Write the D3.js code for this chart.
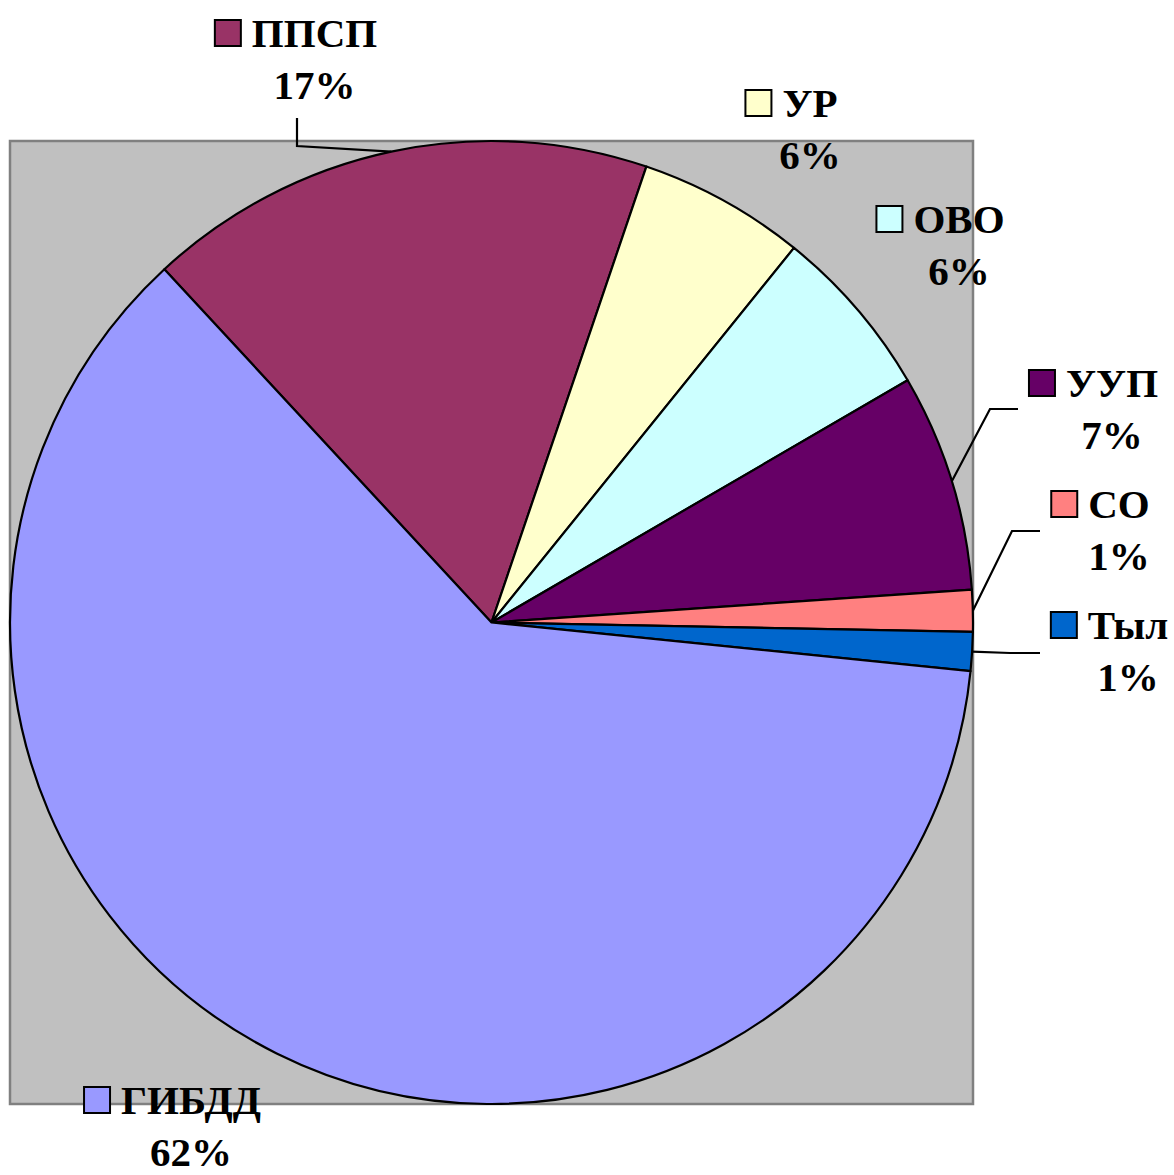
<!DOCTYPE html>
<html><head><meta charset="utf-8">
<script src="https://cdn.jsdelivr.net/npm/d3@7/dist/d3.min.js"></script>
<style>html,body{margin:0;padding:0;background:#fff}</style>
</head><body>
<svg id="chart" width="1174" height="1175"></svg>
<script>
// ---- data ----
const categories = ["ППСП", "УР", "ОВО", "УУП", "СО", "Тыл", "ГИБДД"];
const values = [17.1, 5.6, 5.8, 7.3, 1.4, 1.3, 61.5];
const colors = ["#993366", "#FFFFCC", "#CCFFFF", "#660066", "#FF8080", "#0066CC", "#9999FF"];

// ---- layout (positions / styles) ----
const W = 1174, H = 1175;
const plot = {x: 10, y: 141, w: 963, h: 963};
const cx = 491.5, cy = 622.5, R = 481.5;
const startDeg = -42.8;
const fontSize = 41, lineGap = 52;
// label anchor: center x of name text, baseline y of name line; optional leader elbow/end
const labelLayout = [
  {cx: 314.5, y: 47,   leader: [[297, 146], [297, 118]]},
  {cx: 810,   y: 117,  leader: null},
  {cx: 959,   y: 233,  leader: null},
  {cx: 1112,  y: 397,  leader: [[990, 409], [1018, 409]]},
  {cx: 1119,  y: 518,  leader: [[1012, 531], [1040, 531]]},
  {cx: 1128,  y: 639,  leader: [[1010, 653], [1040, 653]]},
  {cx: 191,   y: 1114, leader: null}
];

const svg = d3.select("#chart");
svg.append("rect").attr("x", plot.x).attr("y", plot.y).attr("width", plot.w).attr("height", plot.h)
  .attr("fill", "#C0C0C0").attr("stroke", "#808080").attr("stroke-width", 2.5);

const data = categories.map((c, i) => ({name: c, value: values[i], color: colors[i]}));
const total = d3.sum(values);
const rad = d => d * Math.PI / 180;
const pie = d3.pie().value(d => d.value).sort(null)
  .startAngle(rad(startDeg)).endAngle(rad(startDeg) + 2 * Math.PI);
const arcs = pie(data);
const arc = d3.arc().innerRadius(0).outerRadius(R);

const g = svg.append("g").attr("transform", `translate(${cx},${cy})`);
g.selectAll("path").data(arcs).join("path")
  .attr("d", arc).attr("fill", d => d.data.color)
  .attr("stroke", "#000").attr("stroke-width", 2.2).attr("stroke-linejoin", "round");

// leader lines
arcs.forEach((a, i) => {
  const L = labelLayout[i];
  if (!L.leader) return;
  const mid = (a.startAngle + a.endAngle) / 2;
  const px = cx + R * Math.sin(mid), py = cy - R * Math.cos(mid);
  const pts = [[px, py], ...L.leader];
  svg.append("path").attr("d", d3.line()(pts)).attr("fill", "none")
    .attr("stroke", "#000").attr("stroke-width", 2.2);
});

// labels
const fmt = v => Math.round(v / total * 100 + 1e-9) + "%";
arcs.forEach((a, i) => {
  const L = labelLayout[i];
  const t = svg.append("text").attr("x", L.cx).attr("y", L.y)
    .attr("text-anchor", "middle")
    .attr("font-family", "'Liberation Serif','Times New Roman',serif")
    .attr("font-weight", "bold").attr("font-size", fontSize).attr("fill", "#000")
    .text(a.data.name);
  const w = t.node().getComputedTextLength();
  const left = L.cx - w / 2;
  svg.append("rect").attr("x", left - 37).attr("y", L.y - 27)
    .attr("width", 26).attr("height", 26)
    .attr("fill", a.data.color).attr("stroke", "#000").attr("stroke-width", 2);
  svg.append("text").attr("x", L.cx).attr("y", L.y + lineGap)
    .attr("text-anchor", "middle")
    .attr("font-family", "'Liberation Serif','Times New Roman',serif")
    .attr("font-weight", "bold").attr("font-size", fontSize).attr("fill", "#000")
    .text(fmt(a.data.value));
});
</script>
</body></html>
